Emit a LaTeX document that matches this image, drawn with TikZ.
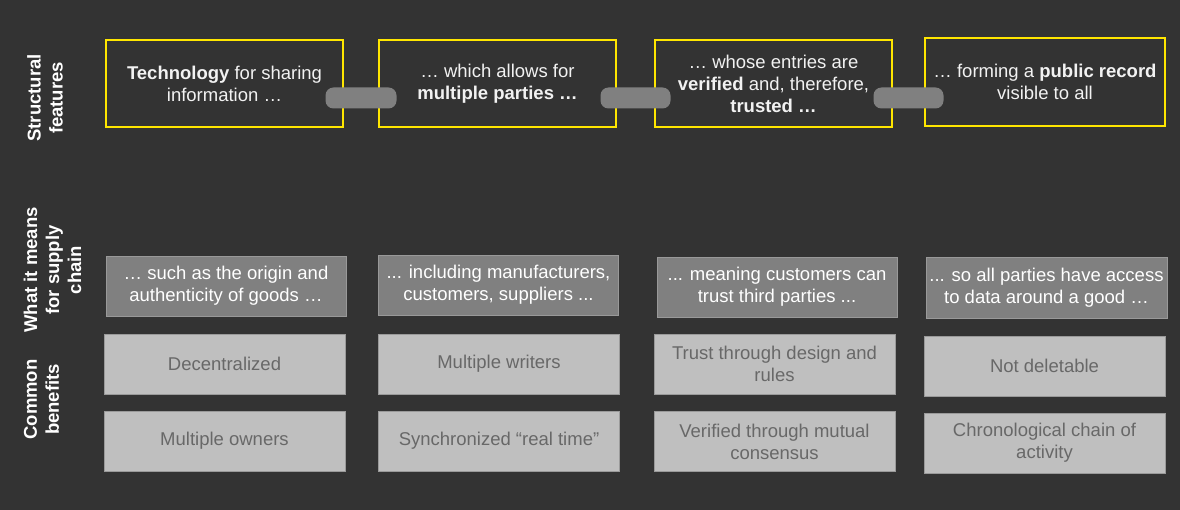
\documentclass[tikz,border=0pt]{standalone}
\usepackage{fontspec}
\setmainfont{Liberation Sans}
\definecolor{bg}{HTML}{333333}
\definecolor{eyyellow}{HTML}{FFE600}
\definecolor{midgray}{HTML}{808080}
\definecolor{midline}{HTML}{999999}
\definecolor{lightgray}{HTML}{BFBFBF}
\definecolor{lightline}{HTML}{9A9A9A}
\definecolor{benefittext}{HTML}{686868}
\definecolor{pillgray}{HTML}{808080}
\definecolor{toptext}{HTML}{F2F2F2}
\begin{document}
\begin{tikzpicture}[x=1pt,y=-1pt,
  every node/.style={inner sep=0pt, outer sep=0pt, align=center, font=\fontsize{18.5}{22}\selectfont},
  featbox/.style={draw=eyyellow, line width=1.25pt, fill=bg, text=toptext, minimum width=237pt, minimum height=87pt},
  meanbox/.style={draw=midline, line width=0.8pt, fill=midgray, text=white, minimum width=240pt, minimum height=60pt},
  benbox/.style={draw=lightline, line width=0.8pt, fill=lightgray, text=benefittext, minimum width=241pt, minimum height=60pt},
  pill/.style={fill=pillgray, rounded corners=8pt, minimum width=71pt, minimum height=21pt},
  rowlabel/.style={rotate=90, text=white, font=\fontsize{18.5}{22}\selectfont\bfseries}
]
\fill[bg] (0,0) rectangle (1180,510);
\useasboundingbox (0,0) rectangle (1180,510);

% row labels
\node[rowlabel] (l1) at (45,98) {Structural\\features};
\node[rowlabel] (l2) at (52.5,270) {What it means\\for supply\\chain};
\node[rowlabel] (l3) at (41.5,399.5) {Common\\benefits};

% structural features
\node[featbox] (t1) at (224.5,83.5) {\textbf{Technology} for sharing\\information …};
\node[featbox] (t2) at (497.5,83.5) {… which allows for\\\textbf{multiple parties …}};
\node[featbox] (t3) at (773.5,83.5) {… whose entries are\\\textbf{verified} and, therefore,\\\textbf{trusted …}};
\node[featbox, minimum width=240pt, minimum height=88pt] (t4) at (1045,82) {… forming a \textbf{public record}\\visible to all};

% pills
\path ([yshift=-14.5pt]t1.east) -- ([yshift=-14.5pt]t2.west) node[midway, pill] (p1) {};
\path ([yshift=-14.5pt]t2.east) -- ([yshift=-14.5pt]t3.west) node[midway, pill, minimum width=70pt] (p2) {};
\path ([yshift=-14.5pt]t3.east) -- ([yshift=-16pt]t4.west) node[midway, pill, minimum width=70pt] (p3) {};

% what it means
\node[meanbox] (m1) at (226,286) {… such as the origin and\\authenticity of goods …};
\node[meanbox] (m2) at (498.5,285) {... including manufacturers,\\customers, suppliers ...};
\node[meanbox] (m3) at (777,287) {... meaning customers can\\trust third parties ...};
\node[meanbox, minimum width=241pt, minimum height=61pt] (m4) at (1046.5,287.5) {... so all parties have access\\to data around a good …};

% common benefits
\node[benbox] (b1) at (224.5,364) {Decentralized};
\node[benbox] (b2) at (499,364) {Multiple writers};
\node[benbox] (b3) at (774.5,364) {Trust through design and\\rules};
\node[benbox] (b4) at (1044.5,366) {Not deletable};
\node[benbox] (c1) at (224.5,441) {Multiple owners};
\node[benbox] (c2) at (499,441) {Synchronized “real time”};
\node[benbox] (c3) at (774.5,441.5) {Verified through mutual\\consensus};
\node[benbox] (c4) at (1044.5,443) {Chronological chain of\\activity};
\end{tikzpicture}
\end{document}
